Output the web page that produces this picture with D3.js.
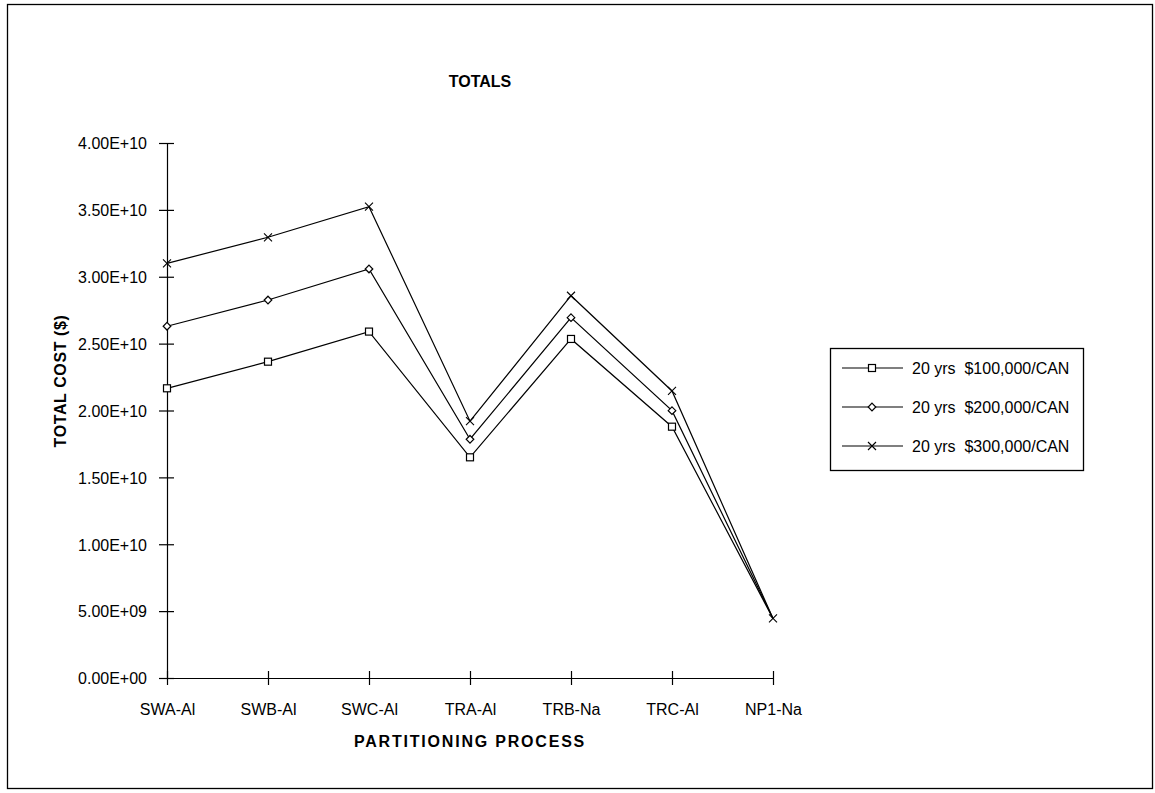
<!DOCTYPE html>
<html>
<head>
<meta charset="utf-8">
<script src="https://cdn.jsdelivr.net/npm/d3@7"></script>
<style>
  html, body { margin: 0; padding: 0; background: #fff; }
  svg { display: block; font-family: "Liberation Sans", Arial, sans-serif; }
  text { fill: #000; }
</style>
</head>
<body>
<svg id="chart" width="1155" height="793"></svg>
<script>
// Partitioning processes along the x axis
const categories = ["SWA-Al", "SWB-Al", "SWC-Al", "TRA-Al", "TRB-Na", "TRC-Al", "NP1-Na"];

// Total cost ($) per process, 20-year horizon, by canister price
const cost100k = [2.166e10, 2.365e10, 2.59e10, 1.65e10, 2.535e10, 1.879e10, 4.45e9];
const cost200k = [2.63e10, 2.826e10, 3.058e10, 1.785e10, 2.694e10, 1.999e10, 4.45e9];
const cost300k = [3.10e10, 3.295e10, 3.524e10, 1.92e10, 2.858e10, 2.146e10, 4.45e9];

const seriesNames = ["20 yrs  $100,000/CAN", "20 yrs  $200,000/CAN", "20 yrs  $300,000/CAN"];
const seriesMarkers = ["square", "diamond", "cross"];

const yTicks = [0, 5e9, 1e10, 1.5e10, 2e10, 2.5e10, 3e10, 3.5e10, 4e10];

const series = [cost100k, cost200k, cost300k].map((values, i) => ({
  name: seriesNames[i], marker: seriesMarkers[i], values
}));

const svg = d3.select("#chart");

// Outer frame
svg.append("rect")
  .attr("x", 7.5).attr("y", 4.5).attr("width", 1145).attr("height", 784)
  .attr("fill", "none").attr("stroke", "#000").attr("stroke-width", 1.3);

const x = d3.scalePoint().domain(categories).range([167, 773]);
const y = d3.scaleLinear().domain([0, 4e10]).range([678, 143]);

// Scientific-notation labels such as 4.00E+10 / 5.00E+09
function sci(v) {
  if (v === 0) return "0.00E+00";
  const e = Math.floor(Math.log10(Math.abs(v)));
  const m = v / Math.pow(10, e);
  const sign = e < 0 ? "-" : "+";
  return m.toFixed(2) + "E" + sign + String(Math.abs(e)).padStart(2, "0");
}

// Y axis
const yAxis = svg.append("g")
  .attr("transform", `translate(${x(categories[0])},0)`)
  .call(d3.axisLeft(y).tickValues(yTicks).tickFormat(sci).tickSizeOuter(0));
yAxis.select(".domain").attr("stroke", "#000").attr("stroke-width", 1.2)
  .attr("d", `M0.5,${y(4e10)}V${y(0)}`);
yAxis.selectAll(".tick line").attr("x1", -8).attr("x2", 7).attr("stroke", "#000").attr("stroke-width", 1.2);
yAxis.selectAll(".tick text")
  .attr("x", -20).attr("dy", "0.36em")
  .style("font-size", "16px").style("font-family", "'Liberation Sans', Arial, sans-serif")
  .attr("fill", "#000");

// X axis
const xAxis = svg.append("g")
  .attr("transform", `translate(0,${y(0)})`)
  .call(d3.axisBottom(x).tickSizeOuter(0));
xAxis.select(".domain").attr("stroke", "#000").attr("stroke-width", 1.2)
  .attr("d", `M${x(categories[0])},0.5H${x(categories[categories.length - 1])}`);
xAxis.selectAll(".tick line").attr("y1", -7).attr("y2", 7).attr("stroke", "#000").attr("stroke-width", 1.2);
xAxis.selectAll(".tick text")
  .attr("y", 37).attr("dy", 0)
  .style("font-size", "16px").style("font-family", "'Liberation Sans', Arial, sans-serif")
  .attr("fill", "#000");

// Titles
svg.append("text")
  .attr("x", 480).attr("y", 87).attr("text-anchor", "middle")
  .style("font-size", "16px").style("font-weight", "bold")
  .text("TOTALS");

svg.append("text")
  .attr("x", 470).attr("y", 747).attr("text-anchor", "middle")
  .style("font-size", "16px").style("font-weight", "bold").style("letter-spacing", "1.8px")
  .text("PARTITIONING PROCESS");

svg.append("text")
  .attr("transform", "translate(66,381) rotate(-90)")
  .attr("text-anchor", "middle")
  .style("font-size", "16px").style("font-weight", "bold").style("letter-spacing", "0.6px")
  .text("TOTAL COST ($)");

// Marker drawing
function drawMarker(g, type) {
  if (type === "square") {
    g.append("rect").attr("x", -3.5).attr("y", -3.5).attr("width", 7).attr("height", 7)
      .attr("fill", "#fff").attr("stroke", "#000").attr("stroke-width", 1.2);
  } else if (type === "diamond") {
    g.append("path").attr("d", "M0,-3.8L3.8,0L0,3.8L-3.8,0Z")
      .attr("fill", "#fff").attr("stroke", "#000").attr("stroke-width", 1.2);
  } else {
    g.append("path").attr("d", "M-4,-4L4,4M-4,4L4,-4")
      .attr("fill", "none").attr("stroke", "#000").attr("stroke-width", 1.1);
  }
}

const line = d3.line()
  .x((d, i) => x(categories[i]))
  .y(d => y(d));

const plot = svg.append("g");
series.forEach(s => {
  plot.append("path").datum(s.values)
    .attr("d", line).attr("fill", "none").attr("stroke", "#000").attr("stroke-width", 1.2);
});
// Where later series sit on exactly the same value, only the topmost marker is shown
series.forEach((s, si) => {
  s.values.forEach((v, i) => {
    const hidden = series.slice(si + 1).some(o => o.values[i] === v);
    if (hidden) return;
    const g = plot.append("g").attr("transform", `translate(${x(categories[i])},${y(v)})`);
    drawMarker(g, s.marker);
  });
});

// Legend
const legend = svg.append("g");
legend.append("rect")
  .attr("x", 830.5).attr("y", 348.5).attr("width", 253).attr("height", 122)
  .attr("fill", "#fff").attr("stroke", "#000").attr("stroke-width", 1.3);
const rowY = [368, 407, 446];
series.forEach((s, i) => {
  const ry = rowY[i];
  legend.append("line").attr("x1", 842).attr("x2", 903).attr("y1", ry).attr("y2", ry)
    .attr("stroke", "#000").attr("stroke-width", 1.1);
  drawMarker(legend.append("g").attr("transform", `translate(872,${ry})`), s.marker);
  legend.append("text")
    .attr("x", 912).attr("y", ry).attr("dy", "0.36em")
    .attr("xml:space", "preserve").style("white-space", "pre")
    .style("font-size", "16px")
    .text(s.name);
});
</script>
</body>
</html>
